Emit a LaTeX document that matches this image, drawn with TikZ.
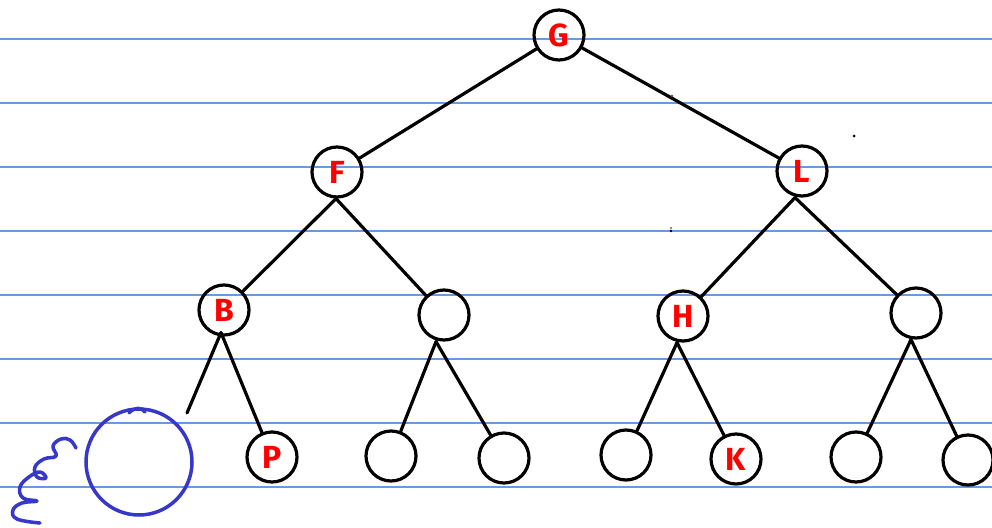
\documentclass[tikz,border=0pt]{standalone}
\usepackage{fontspec}
\setmainfont{Fira Sans}
\definecolor{rule}{RGB}{100,155,225}
\definecolor{ink}{RGB}{255,0,0}
\definecolor{pen}{RGB}{55,55,200}
\begin{document}
\begin{tikzpicture}[x=1pt,y=-1pt,
  rulestyle/.style={rule,line width=1.3pt},
  tnode/.style={circle,draw=black,line width=3.2pt,minimum size=50pt,inner sep=0pt,
    text=ink,font=\fontsize{32}{32}\selectfont\bfseries},
  edge/.style={black,line width=3.2pt,line cap=round},
  bluepen/.style={pen,line width=3.5pt,line cap=round,line join=round}]
\useasboundingbox (0,0) rectangle (992,527);
\fill[white] (0,0) rectangle (992,527);
% ruled lines
\foreach \yy in {39,103,167,231,295,359,423,487}
  \draw[rulestyle] (0,\yy) -- (992,\yy);
% nodes
\node[tnode] (G) at (559,35) {G};
\node[tnode] (F) at (337,172) {F};
\node[tnode] (L) at (802,171) {L};
\node[tnode] (B) at (224,310) {B};
\node[tnode] (E1) at (444,315) {};
\node[tnode] (H) at (683,316) {H};
\node[tnode] (E2) at (916,313) {};
\node[tnode] (P) at (272,457) {P};
\node[tnode] (E3) at (391,456) {};
\node[tnode] (E4) at (504,458) {};
\node[tnode] (E5) at (626,455) {};
\node[tnode] (K) at (736,459) {K};
\node[tnode] (E6) at (856,457) {};
\node[tnode] (E7) at (968,460) {};
\coordinate (dang) at (187,413);
% edges
\draw[edge] (G) -- (F);
\draw[edge] (G) -- (L);
\draw[edge] ([xshift=-1pt]F.south) -- (B);
\draw[edge] ([xshift=-1pt]F.south) -- (E1);
\draw[edge] ([xshift=-7pt]L.south) -- (H);
\draw[edge] ([xshift=-7pt]L.south) -- (E2);
\draw[edge] ([shift={(-3pt,4pt)}]B.south) -- (dang);
\draw[edge] ([shift={(-3pt,4pt)}]B.south) -- (P);
\draw[edge] ([xshift=-8pt]E1.south) -- (E3);
\draw[edge] ([xshift=-8pt]E1.south) -- (E4);
\draw[edge] ([xshift=-6pt]H.south) -- (E5);
\draw[edge] ([xshift=-6pt]H.south) -- (K);
\draw[edge] ([xshift=-5pt]E2.south) -- (E6);
\draw[edge] ([xshift=-5pt]E2.south) -- (E7);
% blue sketch
\node[circle,draw=pen,line width=3.5pt,minimum size=106pt,inner sep=0pt] (blue) at (139,462) {};
\draw[bluepen] (129,413) .. controls (134,407) and (142,407) .. (145,412);
\draw[bluepen] plot[smooth,tension=0.7] coordinates {(76,448)(70,440)(61,439)(53,446)(56,456)(44,459)(35,467)(37,477)(46,478)(40,472)(29,477)(20,487)(23,498)(37,501)(22,503)(13,510)(17,519)(40,523)};
% stray dots
\fill[black!70] (672,96) circle (1.3);
\fill[black] (854,136) circle (1.5);
\fill[black!60] (671,228) circle (1.2);
\fill[black] (671,231) circle (1.3);
\end{tikzpicture}
\end{document}
